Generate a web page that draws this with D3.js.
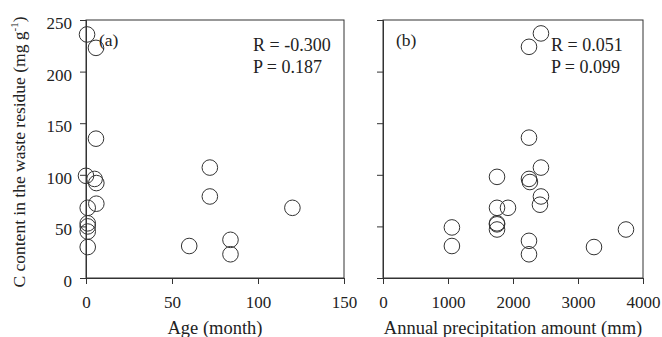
<!DOCTYPE html>
<html>
<head>
<meta charset="utf-8">
<script src="https://cdn.jsdelivr.net/npm/d3@7"></script>
<style>
  body { margin: 0; background: #fff; }
  svg { display: block; }
  text { font-family: "Liberation Serif", "Times New Roman", serif; fill: #222; }
</style>
</head>
<body>
<svg id="chart"></svg>
<script>
// Panel (a): age vs C content
const ageMonths = [0.6, 5.8, 5.8, 0, 5, 6, 6, 1, 1, 1, 1, 1, 60, 72, 72, 120, 84, 84];
const ageC      = [236, 223, 135, 99, 96, 92, 72, 68, 53, 50, 45, 30, 31, 107, 79, 68, 37, 23];

// Panel (b): annual precipitation vs C content
const precipMm  = [2430, 2246, 2246, 2430, 1754, 2246, 2260, 2430, 2415, 1754, 1923, 1754, 1754, 1754, 1060, 1060, 2246, 2246, 3246, 3738];
const precipC   = [237, 224, 136, 107, 98, 96, 93, 79, 71, 68, 68, 53, 52, 47, 49, 31, 36, 23, 30, 47];

const yTicks = [0, 50, 100, 150, 200, 250];
const ageTicks = [0, 50, 100, 150];
const precipTicks = [0, 1000, 2000, 3000, 4000];

const width = 662, height = 337;
const svg = d3.select("#chart").attr("width", width).attr("height", height);

const plotTop = 20, plotBottom = 278;
const y = d3.scaleLinear().domain([0, 250]).range([plotBottom, plotTop]);

const ink = "#333";

function panel(xDomain, xRange, xTicks, xs, ys, showYLabels, tag, stats, statsX, xLabel) {
	const x = d3.scaleLinear().domain(xDomain).range(xRange);
	const g = svg.append("g");

	// frame
	g.append("rect")
		.attr("x", xRange[0]).attr("y", plotTop)
		.attr("width", xRange[1] - xRange[0]).attr("height", plotBottom - plotTop)
		.attr("fill", "none").attr("stroke", ink).attr("stroke-width", 1);

	const xAxis = g.append("g")
		.attr("transform", `translate(0,${plotBottom})`)
		.call(d3.axisBottom(x).tickValues(xTicks).tickSize(6).tickPadding(12).tickFormat(d3.format("d")));
	const yAxis = g.append("g")
		.attr("transform", `translate(${xRange[0]},0)`)
		.call(d3.axisLeft(y).tickValues(yTicks).tickSize(6).tickPadding(8)
			.tickFormat(showYLabels ? d3.format("d") : () => ""));

	[xAxis, yAxis].forEach(a => {
		a.select(".domain").attr("stroke", ink);
		a.selectAll(".tick line").attr("stroke", ink);
		a.selectAll(".tick text")
			.attr("font-family", "Liberation Serif, serif")
			.attr("font-size", 17)
			.attr("fill", "#222");
	});
	yAxis.selectAll(".tick text").attr("dy", "0.5em");

	// points
	g.selectAll("circle")
		.data(xs.map((v, i) => [v, ys[i]]))
		.join("circle")
		.attr("cx", d => x(d[0]))
		.attr("cy", d => y(d[1]))
		.attr("r", 7.8)
		.attr("fill", "none")
		.attr("stroke", ink)
		.attr("stroke-width", 1);

	g.append("text")
		.attr("x", xRange[0] + 13).attr("y", 46)
		.attr("font-size", 17.5)
		.text(tag);

	stats.forEach((s, i) => {
		g.append("text")
			.attr("x", statsX).attr("y", 51 + i * 22)
			.attr("font-size", 18)
			.text(s);
	});

	g.append("text")
		.attr("x", (xRange[0] + xRange[1]) / 2).attr("y", 334)
		.attr("text-anchor", "middle")
		.attr("font-size", 18.5)
		.text(xLabel);
}

panel([0, 150], [86, 344], ageTicks, ageMonths, ageC, true, "(a)", ["R = -0.300", "P = 0.187"], 253, "Age (month)");
panel([0, 4000], [383, 643], precipTicks, precipMm, precipC, false, "(b)", ["R = 0.051", "P = 0.099"], 551, "Annual precipitation amount (mm)");

// y-axis title
const yt = svg.append("text")
	.attr("transform", `translate(25,${(plotTop + plotBottom) / 2 + 3}) rotate(-90)`)
	.attr("text-anchor", "middle")
	.attr("font-size", 17.5);
yt.append("tspan").text("C content in the waste residue (mg g");
yt.append("tspan").attr("font-size", 11).attr("dy", -7).text("-1");
yt.append("tspan").attr("dy", 7).text(")");
</script>
</body>
</html>
